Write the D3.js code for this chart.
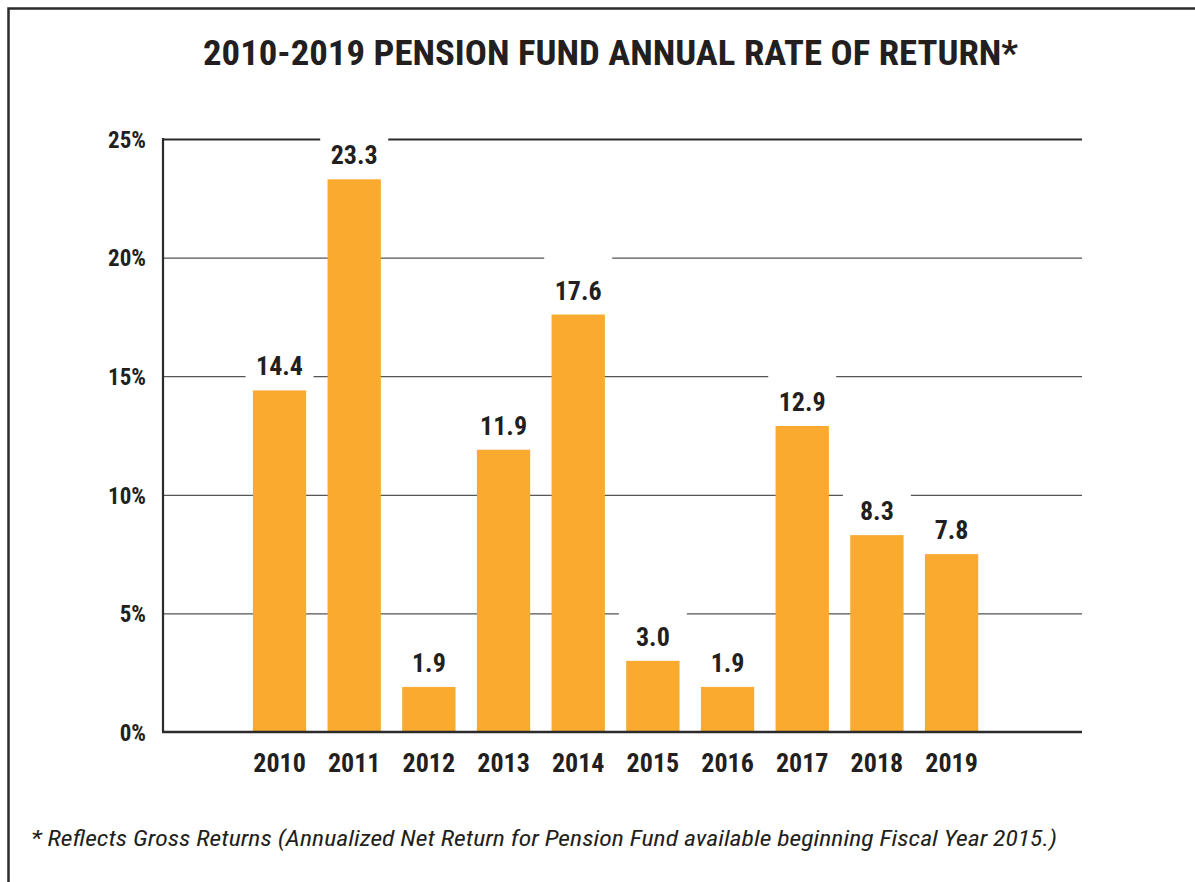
<!DOCTYPE html>
<html>
<head>
<meta charset="utf-8">
<script src="https://cdn.jsdelivr.net/npm/d3@7/dist/d3.min.js"></script>
<style>
  html, body { margin: 0; padding: 0; background: #ffffff; }
  svg { display: block; }
</style>
</head>
<body>
<svg id="chart" width="1195" height="882"></svg>
<script>
// ---- data ----
const years = ["2010", "2011", "2012", "2013", "2014", "2015", "2016", "2017", "2018", "2019"];
const returns = [14.4, 23.3, 1.9, 11.9, 17.6, 3.0, 1.9, 12.9, 8.3, 7.5];
const returnLabels = ["14.4", "23.3", "1.9", "11.9", "17.6", "3.0", "1.9", "12.9", "8.3", "7.8"];
const yTicks = [0, 5, 10, 15, 20, 25];
const titleText = "2010-2019 PENSION FUND ANNUAL RATE OF RETURN*";
const footnoteText = "* Reflects Gross Returns (Annualized Net Return for Pension Fund available beginning Fiscal Year 2015.)";

// ---- layout ----
const W = 1195, H = 882;
const plotLeft = 163, plotRight = 1082, plotTop = 139, plotBottom = 732;
const ink = "#231f20";
const barColor = "#f9aa2f";
const condensed = "'Liberation Sans Narrow', 'Arial Narrow', 'Nimbus Sans Narrow', 'Roboto Condensed', sans-serif";

const svg = d3.select("#chart");
svg.append("rect").attr("width", W).attr("height", H).attr("fill", "#fff");

// outer frame (top + left edges)
svg.append("path")
  .attr("d", `M8.5,${H} L8.5,8.5 L${W},8.5`)
  .attr("fill", "none").attr("stroke", "#2b2b2b").attr("stroke-width", 2.5);

// title
svg.append("text")
  .attr("x", 610.5).attr("y", 64.5)
  .attr("text-anchor", "middle")
  .attr("font-family", condensed).attr("font-weight", "bold").attr("font-size", 35)
  .attr("fill", ink)
  .attr("textLength", 815).attr("lengthAdjust", "spacingAndGlyphs")
  .text(titleText);

// scales
const x = d3.scaleBand().domain(years).range([242.2, 988.9]).paddingInner(0.286).paddingOuter(0.143);
const y = d3.scaleLinear().domain([0, 25]).range([plotBottom, plotTop]);

// gridlines + y labels via axis
const yAxis = d3.axisLeft(y)
  .tickValues(yTicks)
  .tickSize(-(plotRight - plotLeft))
  .tickPadding(17)
  .tickFormat(d => d + "%");

const gy = svg.append("g").attr("transform", `translate(${plotLeft},0)`).call(yAxis);
gy.select(".domain").remove();
gy.selectAll(".tick line")
  .attr("stroke", d => d === 25 ? "#2b2b2b" : "#555")
  .attr("stroke-width", d => d === 25 ? 2.2 : 1.2)
  .attr("opacity", d => d === 0 ? 0 : 1);
gy.selectAll(".tick text")
  .attr("font-family", condensed).attr("font-weight", "bold").attr("font-size", 23)
  .attr("fill", ink)
  .attr("dy", "0.36em");

// white boxes behind value labels (interrupt gridlines)
svg.append("g").selectAll("rect")
  .data(years)
  .join("rect")
  .attr("x", d => x(d) + x.bandwidth() / 2 - 34)
  .attr("width", 68)
  .attr("y", (d, i) => y(returns[i]) - 58)
  .attr("height", 58)
  .attr("fill", "#fff");

// bars
svg.append("g").selectAll("rect")
  .data(years)
  .join("rect")
  .attr("x", d => x(d))
  .attr("width", x.bandwidth())
  .attr("y", (d, i) => y(returns[i]))
  .attr("height", (d, i) => y(0) - y(returns[i]))
  .attr("fill", barColor);

// left axis line
svg.append("line")
  .attr("x1", plotLeft).attr("x2", plotLeft)
  .attr("y1", plotTop - 1).attr("y2", plotBottom)
  .attr("stroke", "#2b2b2b").attr("stroke-width", 2.2);

// bottom axis line
svg.append("line")
  .attr("x1", plotLeft - 1).attr("x2", plotRight)
  .attr("y1", y(0)).attr("y2", y(0))
  .attr("stroke", "#2b2b2b").attr("stroke-width", 2.6);

// x labels via axis
const xAxis = d3.axisBottom(x).tickSize(0).tickPadding(0);
const gx = svg.append("g").attr("transform", `translate(0,${plotBottom})`).call(xAxis);
gx.select(".domain").remove();
gx.selectAll(".tick text")
  .attr("font-family", condensed).attr("font-weight", "bold").attr("font-size", 26)
  .attr("fill", ink)
  .attr("y", 40).attr("dy", 0);

// value labels
svg.append("g").selectAll("text")
  .data(years)
  .join("text")
  .attr("x", d => x(d) + x.bandwidth() / 2)
  .attr("y", (d, i) => y(returns[i]) - 15)
  .attr("text-anchor", "middle")
  .attr("font-family", condensed).attr("font-weight", "bold").attr("font-size", 26)
  .attr("fill", ink)
  .text((d, i) => returnLabels[i]);

// footnote
svg.append("text")
  .attr("x", 31).attr("y", 846)
  .attr("font-family", condensed).attr("font-style", "italic").attr("font-size", 22)
  .attr("fill", ink)
  .attr("textLength", 1026).attr("lengthAdjust", "spacingAndGlyphs")
  .text(footnoteText);
</script>
</body>
</html>
